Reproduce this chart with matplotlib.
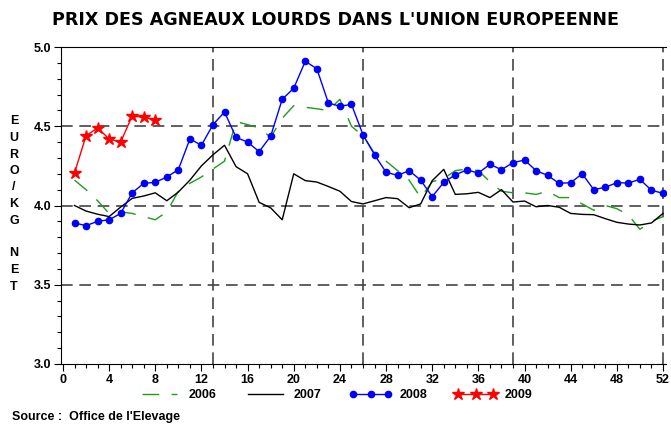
# encoding="utf-8"
# Prix des agneaux lourds dans l'UE, par semaine

import matplotlib
matplotlib.use("Agg")
import matplotlib.pyplot as plt
from matplotlib.ticker import MultipleLocator, FormatStrFormatter

# semaines et prix (euro/kg net)
semaines = list(range(1, 53))
prix_2006 = [4.16, 4.10, 4.03, 3.95, 3.96, 3.95, 3.93, 3.91, 3.96, 4.09,
             4.14, 4.18, 4.23, 4.28, 4.53, 4.51, 4.49, 4.43, 4.55, 4.63,
             4.62, 4.61, 4.60, 4.67, 4.50, 4.44, 4.33, 4.28, 4.22, 4.16,
             4.05, 4.15, 4.17, 4.22, 4.23, 4.22, 4.15, 4.09, 4.08, 4.08,
             4.07, 4.09, 4.05, 4.05, 4.01, 3.97, 4.00, 3.98, 3.94, 3.85,
             3.90, 3.93]
prix_2007 = [4.00, 3.965, 3.945, 3.93, 3.99, 4.045, 4.06, 4.08, 4.03, 4.085,
             4.16, 4.25, 4.32, 4.38, 4.245, 4.20, 4.02, 3.985, 3.91, 4.20,
             4.157, 4.148, 4.12, 4.09, 4.025, 4.01, 4.03, 4.05, 4.043, 3.986,
             4.01, 4.157, 4.228, 4.07, 4.074, 4.083, 4.05, 4.10, 4.022, 4.028,
             3.992, 4.00, 3.989, 3.95, 3.944, 3.942, 3.917, 3.894, 3.883, 3.877,
             3.89, 3.95]
prix_2008 = [3.89, 3.873, 3.90, 3.91, 3.95, 4.08, 4.14, 4.146, 4.18, 4.226,
             4.42, 4.38, 4.51, 4.59, 4.43, 4.40, 4.34, 4.437, 4.67, 4.74,
             4.91, 4.863, 4.647, 4.626, 4.638, 4.447, 4.32, 4.21, 4.19, 4.22,
             4.16, 4.056, 4.146, 4.194, 4.224, 4.205, 4.26, 4.226, 4.27, 4.287,
             4.22, 4.19, 4.14, 4.144, 4.20, 4.10, 4.115, 4.144, 4.142, 4.165,
             4.096, 4.077]
semaines_2009 = list(range(1, 9))
prix_2009 = [4.205, 4.44, 4.49, 4.42, 4.40, 4.565, 4.556, 4.54]

# lignes de repere
trimestres = [13, 26, 39, 52]
niveaux = [3.5, 4.0, 4.5]

plt.rcParams['font.family'] = ['Liberation Sans', 'DejaVu Sans']
plt.rcParams['font.weight'] = 'bold'

fig = plt.figure(figsize=(6.71, 4.24), dpi=100)
ax = fig.add_axes([61 / 671, 1 - 364 / 424, 605 / 671, 317 / 424])

# grille en tirets
for n in niveaux:
    ax.axhline(n, color='#444444', lw=1.2, ls=(0, (7, 4)), zorder=1)
for t in trimestres:
    ax.axvline(t, color='#444444', lw=1.2, ls=(0, (7, 4)), zorder=1)

l06, = ax.plot(semaines, prix_2006, color='#1f9a1f', lw=1.0, ls=(0, (12, 9)), label='2006')
l07, = ax.plot(semaines, prix_2007, color='black', lw=1.0, label='2007')
l08, = ax.plot(semaines, prix_2008, color='#0000ff', lw=1.0, marker='o', ms=4.5, label='2008')
l09, = ax.plot(semaines_2009, prix_2009, color='#ff0000', lw=1.0, marker='*', ms=9, label='2009')

ax.set_xlim(-0.17, 52.26)
ax.set_ylim(3.0, 5.0)
ax.xaxis.set_major_locator(MultipleLocator(4))
ax.xaxis.set_minor_locator(MultipleLocator(1))
ax.yaxis.set_major_locator(MultipleLocator(0.5))
ax.yaxis.set_minor_locator(MultipleLocator(0.1))
ax.yaxis.set_major_formatter(FormatStrFormatter('%.1f'))
ax.tick_params(which='both', direction='out', labelsize=9, width=0.8)
ax.tick_params(which='major', length=5, pad=2)
ax.tick_params(which='minor', length=3)
ax.spines['right'].set_visible(False)
for s in ['left', 'bottom', 'top']:
    ax.spines[s].set_linewidth(0.8)

fig.text(0.5, 1 - 20 / 424, "PRIX DES AGNEAUX LOURDS DANS L'UNION EUROPEENNE",
         ha='center', va='center', fontsize=12.6, fontweight='bold', family='DejaVu Sans')
fig.text(14 / 671, 1 - 204 / 424, "E\nU\nR\nO\n/\nK\nG\n\nN\nE\nT",
         ha='center', va='center', fontsize=9, fontweight='bold', linespacing=1.5)
fig.text(12 / 671, 1 - 417 / 424, "Source :  Office de l'Elevage",
         ha='left', va='center', fontsize=9, fontweight='bold')

fig.legend(handles=[l06, l07, l08, l09], loc='center', bbox_to_anchor=(0.5, 1 - 395 / 424),
           ncol=4, frameon=False, fontsize=9, handlelength=3.4, numpoints=3,
           columnspacing=2.2, handletextpad=0.6)

fig.savefig('out.png', dpi=100)
